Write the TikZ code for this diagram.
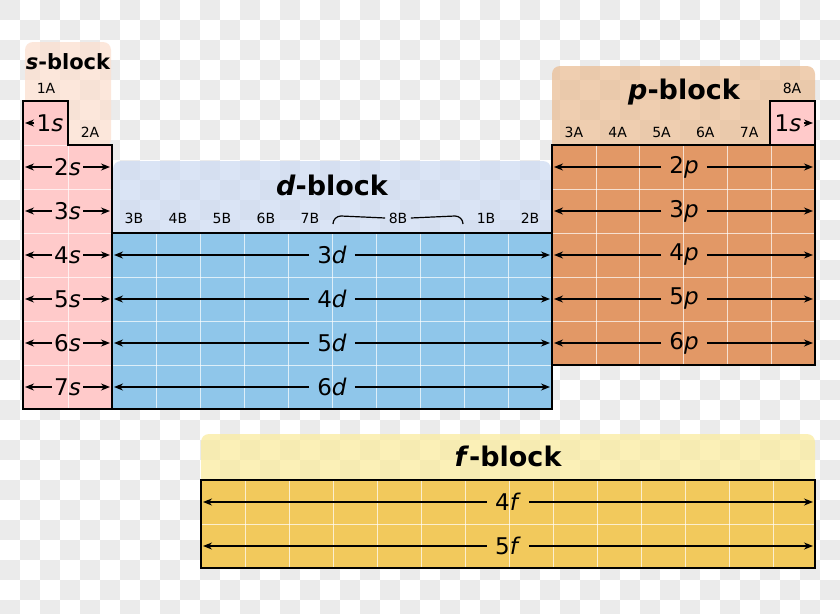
\documentclass[tikz,border=0pt]{standalone}
\usepackage{fontspec}
\setmainfont{DejaVu Sans}
\usetikzlibrary{arrows.meta,calc,positioning}
\definecolor{sCol}{RGB}{255,202,202}
\definecolor{sHead}{RGB}{252,224,208}
\definecolor{dCol}{RGB}{143,198,234}
\definecolor{dHead}{RGB}{206,220,242}
\definecolor{pCol}{RGB}{226,152,102}
\definecolor{pHead}{RGB}{234,190,150}
\definecolor{fCol}{RGB}{242,201,92}
\definecolor{fHead}{RGB}{250,236,160}
\definecolor{chk}{RGB}{235,235,235}
\tikzset{
  blk/.style={draw=black,line width=2.6pt,line join=miter},
  head/.style={rounded corners=8pt,opacity=0.75},
  grid/.style={white,line width=0.5pt,opacity=0.7},
  orb/.style={font=\fontsize{23}{23}\selectfont,inner sep=2pt},
  grp/.style={font=\fontsize{14}{14}\selectfont},
  ttl/.style={font=\fontsize{27}{27}\selectfont\bfseries},
  arr/.style={-{Stealth[length=9pt,width=7pt]},line width=1.4pt},
}
\begin{document}
\begin{tikzpicture}[x=1pt,y=-1pt]
\useasboundingbox (0,0) rectangle (840,613);
% checkerboard background
\fill[white] (0,0) rectangle (840,613);
\foreach \i in {0,...,41}{
  \foreach \j in {0,...,30}{
    \pgfmathparse{int(mod(\i+\j,2))}
    \ifnum\pgfmathresult=0
      \fill[chk] (\i*20,\j*20) rectangle ++(20,20);
    \fi
  }
}
% headers
\fill[head,sHead] (25,42) rectangle (111,147);
\fill[head,dHead] (113,161) rectangle (551,240);
\fill[head,pHead] (552,66) rectangle (815,150);
\fill[head,fHead] (201,434) rectangle (815,485);
% s-block
\fill[sCol] (23,101) -- (68,101) -- (68,145) -- (112,145) -- (112,409) -- (23,409) -- cycle;
\foreach \r in {145,189,233,277,321,365} \draw[grid] (23,\r) -- (112,\r);
\draw[grid] (68,145) -- (68,409);
\draw[blk] (23,101) -- (68,101) -- (68,145) -- (112,145) -- (112,409) -- (23,409) -- cycle;
% d-block
\fill[dCol] (112,233) rectangle (552,409);
\foreach \r in {277,321,365} \draw[grid] (112,\r) -- (552,\r);
\foreach \c in {1,...,9} \draw[grid] (112+\c*44,233) -- (112+\c*44,409);
\draw[blk] (112,233) rectangle (552,409);
% p-block
\fill[pCol] (552,145) rectangle (815,365);
\foreach \r in {189,233,277,321} \draw[grid] (552,\r) -- (815,\r);
\foreach \c in {1,...,5} \draw[grid] (552+\c*43.8,145) -- (552+\c*43.8,365);
\draw[blk] (552,145) rectangle (815,365);
\fill[sCol] (770,101) rectangle (815,145);
\draw[blk] (770,101) rectangle (815,145);
% f-block
\fill[fCol] (201,480) rectangle (815,568);
\draw[grid] (201,524) -- (815,524);
\foreach \c in {1,...,13} \draw[grid] (201+\c*44,480) -- (201+\c*44,568);
\draw[blk] (201,480) rectangle (815,568);
% titles
\node[ttl,font=\fontsize{21}{21}\selectfont\bfseries] (sT) at (68,62) {\textit{s}-block};
\node[ttl] (dT) at (332,185) {\textit{d}-block};
\node[ttl] (pT) at (684,92) {\textit{p}-block};
\node[ttl] (fT) at (508,456) {\textit{f}-block};
% group labels
\node[grp] (g1A) at (46,88) {1A};
\node[grp] (g2A) at (90,132) {2A};
\node[grp] (g8A) at (792,88) {8A};
\foreach \g [count=\k from 0] in {3A,4A,5A,6A,7A}
  \node[grp] (g\g) at (573.9+\k*43.8,132) {\g};
\foreach \g [count=\k from 0] in {3B,4B,5B,6B,7B}
  \node[grp] (g\g) at (134+\k*44,218) {\g};
\node[grp] (g1B) at (486,218) {1B};
\node[grp] (g2B) at (530,218) {2B};
\node[grp] (g8B) at (398,218) {8B};
\draw[line width=1.2pt] (333,224) to[out=90,in=180] (341,216) -- (g8B.west);
\draw[line width=1.2pt] (463,224) to[out=90,in=0] (455,216) -- (g8B.east);
% 1s labels
\node[orb] (s1) at (50,123) {1\textit{s}};
\coordinate (s1L) at (25,123);
\draw[arr] (s1.west) -- (s1L);
\node[orb] (h1) at (788,123) {1\textit{s}};
\coordinate (h1R) at (813,123);
\draw[arr] (h1.east) -- (h1R);
% s rows
\foreach \n [count=\k from 0] in {2,...,7}{
  \node[orb] (s\n) at (67.5,167+\k*44) {\n\textit{s}};
  \coordinate (s\n L) at (25,167+\k*44);
  \coordinate (s\n R) at (110,167+\k*44);
  \draw[arr] (s\n.west) -- (s\n L);
  \draw[arr] (s\n.east) -- (s\n R);
}
% d rows
\foreach \n [count=\k from 0] in {3,...,6}{
  \node[orb,inner sep=8pt] (d\n) at (332,255+\k*44) {\n\textit{d}};
  \coordinate (d\n L) at (114,255+\k*44);
  \coordinate (d\n R) at (550,255+\k*44);
  \draw[arr] (d\n.west) -- (d\n L);
  \draw[arr] (d\n.east) -- (d\n R);
}
% p rows
\foreach \n [count=\k from 0] in {2,...,6}{
  \node[orb,inner sep=8pt] (p\n) at (684,167+\k*44) {\n\textit{p}};
  \coordinate (p\n L) at (554,167+\k*44);
  \coordinate (p\n R) at (813,167+\k*44);
  \draw[arr] (p\n.west) -- (p\n L);
  \draw[arr] (p\n.east) -- (p\n R);
}
% f rows
\foreach \n [count=\k from 0] in {4,5}{
  \node[orb,inner sep=8pt] (f\n) at (508,502+\k*44) {\n\textit{f}};
  \coordinate (f\n L) at (203,502+\k*44);
  \coordinate (f\n R) at (813,502+\k*44);
  \draw[arr] (f\n.west) -- (f\n L);
  \draw[arr] (f\n.east) -- (f\n R);
}
\end{tikzpicture}
\end{document}
